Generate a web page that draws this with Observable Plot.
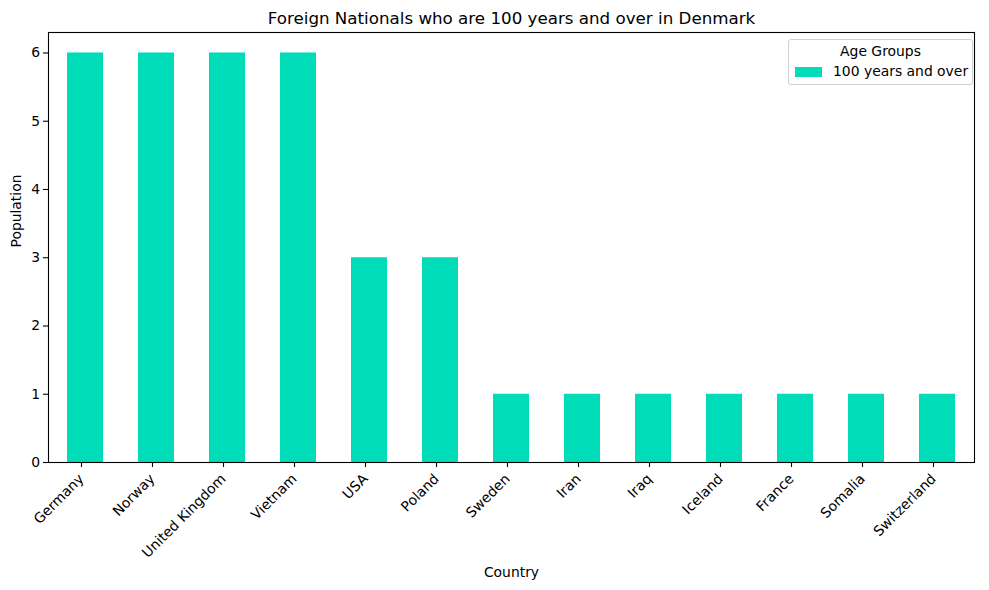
<!DOCTYPE html>
<html>
<head>
<meta charset="utf-8">
<script src="https://cdn.jsdelivr.net/npm/d3@7"></script>
<script src="https://cdn.jsdelivr.net/npm/@observablehq/plot@0.6"></script>
<style>
  html, body { margin: 0; padding: 0; background: white; }
  #wrap { position: relative; width: 989px; height: 590px; font-family: "DejaVu Sans", sans-serif; }
  #legend {
    position: absolute; left: 788px; top: 39px; width: 185px; height: 46px;
    border: 1px solid #d0d0d0; border-radius: 3px; background: rgba(255,255,255,0.8);
    box-sizing: border-box; font-size: 13.9px; color: black;
  }
  #legend .title { position: absolute; left: 0; right: 0; top: 3px; text-align: center; }
  #legend .sw { position: absolute; left: 6px; top: 27px; width: 27px; height: 10px; }
  #legend .lab { position: absolute; left: 44px; top: 23px; white-space: nowrap; }
</style>
</head>
<body>
<div id="wrap"></div>
<script>
const countries = ["Germany", "Norway", "United Kingdom", "Vietnam", "USA", "Poland", "Sweden", "Iran", "Iraq", "Iceland", "France", "Somalia", "Switzerland"];
const values = [6, 6, 6, 6, 3, 3, 1, 1, 1, 1, 1, 1, 1];
const yTicks = [0, 1, 2, 3, 4, 5, 6];
const seriesName = "100 years and over";
const legendTitle = "Age Groups";
const chartTitle = "Foreign Nationals who are 100 years and over in Denmark";
const xLabel = "Country";
const yLabel = "Population";
const barColor = "#00DCB8";

const data = countries.map((c, i) => ({country: c, value: values[i]}));

const chart = Plot.plot({
  width: 989,
  height: 590,
  marginTop: 32,
  marginRight: 15,
  marginBottom: 128,
  marginLeft: 48,
  style: {fontFamily: "DejaVu Sans", fontSize: "13.9px", color: "black", background: "white", overflow: "visible"},
  x: {domain: countries, paddingInner: 0.5, paddingOuter: 0.25, label: null},
  y: {domain: [0, 6.3], label: null},
  marks: [
    Plot.barY(data, {x: "country", y: "value", fill: barColor}),
    Plot.frame({stroke: "black", strokeWidth: 1.1}),
    Plot.axisX({tickRotate: -45, tickSize: 5, tickPadding: 9, dx: -4, label: null, strokeWidth: 1.1}),
    Plot.axisY({ticks: yTicks, tickSize: 5, tickPadding: 3.5, tickFormat: d => String(d), label: null, strokeWidth: 1.1}),
    Plot.text([chartTitle], {text: d => d, frameAnchor: "top", lineAnchor: "middle", dy: -14, fontSize: 16.7}),
    Plot.text([xLabel], {text: d => d, frameAnchor: "bottom", lineAnchor: "middle", dy: 110}),
    Plot.text([yLabel], {text: d => d, frameAnchor: "left", lineAnchor: "middle", dx: -32, rotate: -90})
  ]
});

const wrap = document.getElementById("wrap");
wrap.appendChild(chart);
const legend = document.createElement("div");
legend.id = "legend";
legend.innerHTML = `<div class="title">${legendTitle}</div><div class="sw" style="background:${barColor}"></div><div class="lab">${seriesName}</div>`;
wrap.appendChild(legend);
</script>
</body>
</html>
